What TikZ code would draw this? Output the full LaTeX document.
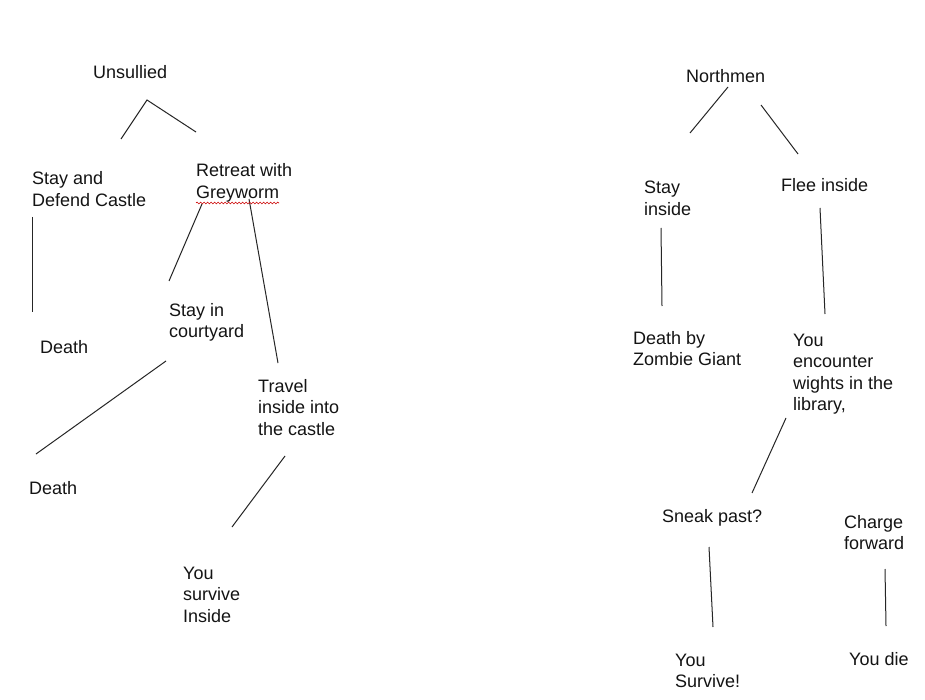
\documentclass[tikz,border=0pt]{standalone}
\usepackage{fontspec}
\setmainfont{Liberation Sans}
\usetikzlibrary{decorations.pathmorphing}
\newcommand{\txtlines}[1]{\begin{tabular}[t]{@{}l@{}}#1\end{tabular}}
\begin{document}
\begin{tikzpicture}[x=1pt,y=-1pt,
  lbl/.style={anchor=base west,inner sep=0pt,text=black!92,font=\fontsize{18}{21.5}\selectfont},
  link/.style={draw=black!85,line width=1pt},
  spell/.style={draw=red!80!black,line width=0.6pt,decorate,decoration={snake,segment length=3.5pt,amplitude=0.9pt}}]
\fill[white] (0,0) rectangle (925,700);
\useasboundingbox (0,0) rectangle (925,700);
\renewcommand{\arraystretch}{1}
% ---------- left tree ----------
\node[lbl] (uns) at (93,79) {Unsullied};
\node[lbl] (stay) at (32,185) {\txtlines{Stay and\\Defend Castle}};
\node[lbl] (retreat) at (196,177) {\txtlines{Retreat with\\Greyworm}};
\node[lbl] (death1) at (40,353) {Death};
\node[lbl] (court) at (169,316) {\txtlines{Stay in\\courtyard}};
\node[lbl] (travel) at (258,392) {\txtlines{Travel\\inside into\\the castle}};
\node[lbl] (death2) at (29,494) {Death};
\node[lbl] (survive) at (183,579) {\txtlines{You\\survive\\Inside}};
% ---------- right tree ----------
\node[lbl] (north) at (686,83) {Northmen};
\node[lbl] (stayin) at (644,194) {\txtlines{Stay\\inside}};
\node[lbl] (flee) at (781,192) {Flee inside};
\node[lbl] (zombie) at (633,344) {\txtlines{Death by\\Zombie Giant}};
\node[lbl] (wights) at (793,346) {\txtlines{You\\encounter\\wights in the\\library,}};
\node[lbl] (sneak) at (662,522) {Sneak past?};
\node[lbl] (charge) at (844,528) {\txtlines{Charge\\forward}};
\node[lbl] (yousurv) at (675,666) {\txtlines{You\\Survive!}};
\node[lbl] (youdie) at (849,665) {You die};
% ---------- connector end points ----------
\coordinate (a1) at (147,100);  \coordinate (a2) at (121,139);
\coordinate (a3) at (196,132);
\coordinate (b1) at (32,217);   \coordinate (b2) at (32,312);
\coordinate (c1) at (202,204);  \coordinate (c2) at (169,281);
\coordinate (d1) at (249,199);  \coordinate (d2) at (278,363);
\coordinate (e1) at (166,361);  \coordinate (e2) at (36,454);
\coordinate (f1) at (285,456);  \coordinate (f2) at (232,527);
\coordinate (g1) at (728,87);   \coordinate (g2) at (690,133);
\coordinate (h1) at (761,105);  \coordinate (h2) at (798,154);
\coordinate (i1) at (661,228);  \coordinate (i2) at (662,306);
\coordinate (j1) at (820,208);  \coordinate (j2) at (825,314);
\coordinate (k1) at (786,418);  \coordinate (k2) at (752,493);
\coordinate (l1) at (709,547);  \coordinate (l2) at (713,627);
\coordinate (m1) at (885,569);  \coordinate (m2) at (886,626);
\coordinate (s1) at (196,203);  \coordinate (s2) at (279,203);
% ---------- connectors ----------
\draw[link] (a2) -- (a1) -- (a3);
\draw[link] (b1) -- (b2);
\draw[link] (c1) -- (c2);
\draw[link] (d1) -- (d2);
\draw[link] (e1) -- (e2);
\draw[link] (f1) -- (f2);
\draw[link] (g1) -- (g2);
\draw[link] (h1) -- (h2);
\draw[link] (i1) -- (i2);
\draw[link] (j1) -- (j2);
\draw[link] (k1) -- (k2);
\draw[link] (l1) -- (l2);
\draw[link] (m1) -- (m2);
\draw[spell] (s1) -- (s2);
\end{tikzpicture}
\end{document}
